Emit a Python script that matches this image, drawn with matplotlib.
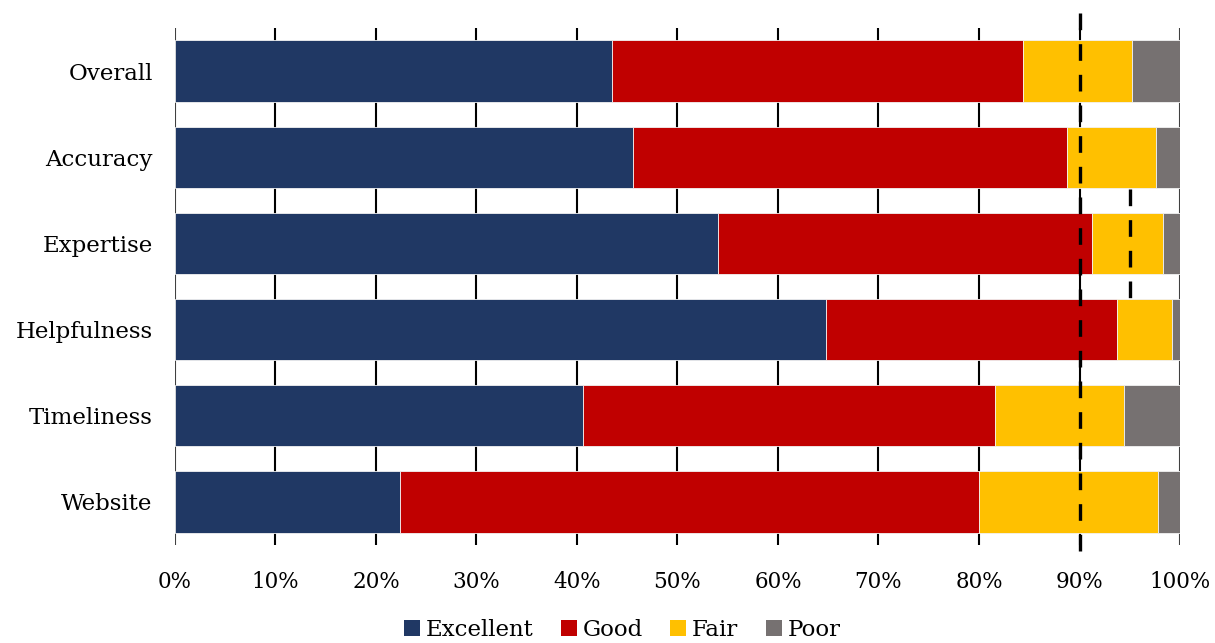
import matplotlib
matplotlib.use("Agg")
import matplotlib.pyplot as plt
from matplotlib.patches import Patch
import numpy as np

categories = ["Overall", "Accuracy", "Expertise", "Helpfulness", "Timeliness", "Website"]
excellent = [43.5, 45.6, 54.0, 64.8, 40.6, 22.4]
good = [40.9, 43.2, 37.2, 28.9, 41.0, 57.6]
fair = [10.8, 8.8, 7.1, 5.5, 12.8, 17.8]
poor = [4.8, 2.4, 1.7, 0.8, 5.6, 2.2]
series_names = ["Excellent", "Good", "Fair", "Poor"]
colors = ["#203864", "#C00000", "#FFC000", "#767171"]
xticks = list(range(0, 101, 10))
xtick_labels = [f"{t}%" for t in xticks]
target_all = 90
target_part = 95

plt.rcParams['font.family'] = ['DejaVu Serif']

fig = plt.figure(figsize=(12.15, 6.43), dpi=100)
ax = fig.add_axes([0.144, 0.1524, 0.8272, 0.8041])

y = np.arange(len(categories))
left = np.zeros(len(categories))
for vals, name, c in zip([excellent, good, fair, poor], series_names, colors):
    ax.barh(y, vals, left=left, height=0.71, color=c, label=name,
            edgecolor="#f2f2f2", linewidth=0.6, zorder=2)
    left += np.array(vals)

ax.set_ylim(len(categories) - 0.5, -0.5)
ax.set_xlim(0, 100)

for t in xticks:
    ax.axvline(t, color="black" if 0 < t < 100 else "#404040", lw=1.5, zorder=1)

ax.plot([target_all, target_all], [-0.67, 5.73], color="black", lw=2.4,
        dashes=(5, 4.2), zorder=4, clip_on=False)
ax.plot([target_part, target_part], [1.37, 2.78], color="black", lw=2.4,
        dashes=(5, 4.2), zorder=4, clip_on=False)

for s in ax.spines.values():
    s.set_visible(False)

ax.set_yticks(y)
ax.set_yticklabels(categories, fontsize=16.5)
ax.set_xticks(xticks)
ax.set_xticklabels(xtick_labels, fontsize=15.5)
ax.tick_params(axis="both", length=0)
ax.tick_params(axis="y", pad=16)
ax.tick_params(axis="x", pad=19)

handles = [Patch(facecolor=c, label=n) for c, n in zip(colors, series_names)]
fig.legend(handles=handles, loc="center", bbox_to_anchor=(0.512, 0.02),
           ncol=4, frameon=False, fontsize=16.5, handlelength=0.7,
           handleheight=0.7, handletextpad=0.25, columnspacing=1.2)

fig.savefig("out.png", dpi=100)
